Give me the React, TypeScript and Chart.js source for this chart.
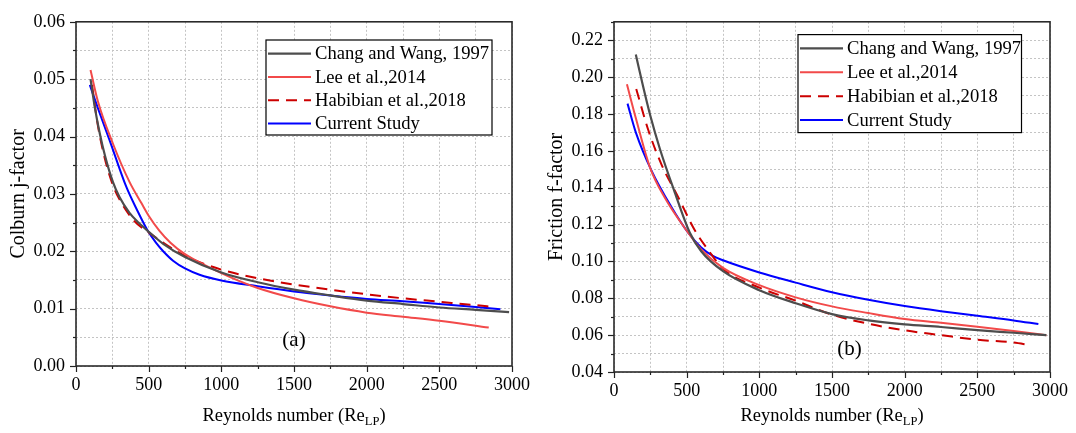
import React, { useEffect, useRef } from 'react';
import { Chart, registerables } from 'chart.js';

Chart.register(...registerables);

const SERIF = '"Liberation Serif", "Times New Roman", Times, serif';

// ---------- Panel (a): Colburn j-factor ----------
const jChangRe = [100, 130, 164, 200, 255, 300, 368, 430, 505, 600, 750, 1000, 1250, 1500, 1750, 2000, 2250, 2500, 2750, 2980];
const jChangVal = [0.05, 0.045, 0.0405, 0.0366, 0.032, 0.0294, 0.0267, 0.025, 0.0233, 0.0213, 0.019, 0.0163, 0.0146, 0.0133, 0.0123, 0.0114, 0.0108, 0.0102, 0.0098, 0.0094];

const jLeeRe = [100, 150, 255, 368, 450, 500, 573, 650, 750, 1000, 1250, 1500, 1750, 2000, 2250, 2500, 2840];
const jLeeVal = [0.0516, 0.0462, 0.0387, 0.0321, 0.0284, 0.0262, 0.0236, 0.0215, 0.0195, 0.0162, 0.0136, 0.0118, 0.0104, 0.0093, 0.0086, 0.0079, 0.0067];

const jHabRe = [110, 150, 200, 250, 300, 400, 500, 600, 750, 1000, 1250, 1500, 1750, 2000, 2250, 2500, 2750, 2870];
const jHabVal = [0.049, 0.042, 0.036, 0.0318, 0.029, 0.0253, 0.0233, 0.0215, 0.0192, 0.0168, 0.0153, 0.0142, 0.0133, 0.0125, 0.0118, 0.0112, 0.0106, 0.0103];

const jCurRe = [95, 150, 232, 345, 420, 493, 550, 600, 670, 750, 850, 1000, 1250, 1500, 1750, 2000, 2250, 2500, 2750, 2920];
const jCurVal = [0.049, 0.045, 0.0393, 0.0313, 0.0272, 0.0236, 0.0215, 0.02, 0.0183, 0.017, 0.0159, 0.0149, 0.0139, 0.013, 0.0123, 0.0117, 0.0113, 0.0108, 0.0103, 0.0099];

// ---------- Panel (b): Friction f-factor ----------
const fChangRe = [150, 200, 250, 316, 418, 521, 600, 750, 1000, 1250, 1500, 1750, 2000, 2250, 2500, 2750, 2975];
const fChangVal = [0.2122, 0.195, 0.179, 0.161, 0.1375, 0.1157, 0.1055, 0.0947, 0.0844, 0.0773, 0.0714, 0.068, 0.0658, 0.0644, 0.0627, 0.0613, 0.06];

const fLeeRe = [89, 150, 248, 350, 509, 600, 750, 1000, 1250, 1500, 1750, 2000, 2250, 2500, 2750, 2975];
const fLeeVal = [0.1961, 0.1778, 0.1509, 0.1345, 0.1157, 0.1065, 0.0965, 0.0871, 0.0805, 0.0756, 0.072, 0.0688, 0.0667, 0.0645, 0.0622, 0.06];

const fHabRe = [153, 237, 330, 441, 555, 650, 750, 1000, 1250, 1500, 1750, 2000, 2250, 2500, 2750, 2860];
const fHabVal = [0.1935, 0.171, 0.152, 0.135, 0.117, 0.106, 0.096, 0.0858, 0.0787, 0.0711, 0.0662, 0.0626, 0.06, 0.0575, 0.056, 0.0546];

const fCurRe = [93, 150, 259, 395, 509, 600, 680, 750, 1000, 1250, 1500, 1750, 2000, 2250, 2500, 2750, 2920];
const fCurVal = [0.1856, 0.17, 0.1491, 0.1295, 0.1157, 0.1075, 0.103, 0.1006, 0.094, 0.0885, 0.0833, 0.0792, 0.0758, 0.073, 0.0705, 0.068, 0.066];

const seriesLabels = ['Chang and Wang, 1997', 'Lee et al.,2014', 'Habibian et al.,2018', 'Current Study'];
const seriesColors = ['#4d4d4d', '#f24a4a', '#cc0000', '#0000ff'];

const xTitleMain = 'Reynolds number (Re';
const xTitleSub = 'LP';

type Series = { label: string; re: number[]; val: number[]; color: string; width: number; dash?: number[] };

type Panel = {
  series: Series[];
  yMin: number; yMax: number; yMinor: number; yMajor: number; yDecimals: number;
  yTitle: string; tag: string; tagRe: number; tagVal: number;
  padTop: number; padRight: number; xAxisH: number; yAxisW: number;
  legend: { x: number; y: number; w: number; h: number; first: number; gap: number };
};

function mkSeries(res: number[][], vals: number[][]): Series[] {
  return res.map((re, i) => ({
    label: seriesLabels[i],
    re,
    val: vals[i],
    color: seriesColors[i],
    width: i === 0 ? 2.2 : 2,
    dash: i === 2 ? [11, 7] : undefined,
  }));
}

const panelA: Panel = {
  series: mkSeries([jChangRe, jLeeRe, jHabRe, jCurRe], [jChangVal, jLeeVal, jHabVal, jCurVal]),
  yMin: 0, yMax: 0.06, yMinor: 0.005, yMajor: 0.01, yDecimals: 2,
  yTitle: 'Colburn j-factor', tag: '(a)', tagRe: 1500, tagVal: 0.0045,
  padTop: 16, padRight: 22, xAxisH: 67, yAxisW: 76,
  legend: { x: 266, y: 40, w: 226, h: 95, first: 13.6, gap: 23.3 },
};

const panelB: Panel = {
  series: mkSeries([fChangRe, fLeeRe, fHabRe, fCurRe], [fChangVal, fLeeVal, fHabVal, fCurVal]),
  yMin: 0.04, yMax: 0.23, yMinor: 0.01, yMajor: 0.02, yDecimals: 2,
  yTitle: 'Friction f-factor', tag: '(b)', tagRe: 1620, tagVal: 0.052,
  padTop: 15, padRight: 25, xAxisH: 61, yAxisW: 76,
  legend: { x: 260, y: 34.6, w: 223.5, h: 98, first: 13.8, gap: 23.9 },
};

const isMult = (v: number, m: number) => Math.abs(v / m - Math.round(v / m)) < 1e-6;

function makeDecor(p: Panel) {
  return {
    id: 'decor',
    afterDraw(chart: any) {
      const { ctx, chartArea: ca, scales } = chart;
      const xs = scales.x;
      const ys = scales.y;
      ctx.save();
      // tick marks
      ctx.strokeStyle = '#222';
      ctx.lineWidth = 1.2;
      for (let i = 0; i <= 12; i++) {
        const v = i * 250;
        const px = Math.round(xs.getPixelForValue(v)) + 0.5;
        const len = v % 500 === 0 ? 6 : 3;
        ctx.beginPath();
        ctx.moveTo(px, ca.bottom);
        ctx.lineTo(px, ca.bottom + len);
        ctx.stroke();
      }
      const n = Math.round((p.yMax - p.yMin) / p.yMinor);
      for (let i = 0; i <= n; i++) {
        const v = p.yMin + i * p.yMinor;
        const py = Math.round(ys.getPixelForValue(v)) + 0.5;
        const len = isMult(v, p.yMajor) ? 6 : 3;
        ctx.beginPath();
        ctx.moveTo(ca.left, py);
        ctx.lineTo(ca.left - len, py);
        ctx.stroke();
      }
      // frame
      ctx.strokeStyle = '#2a2a2a';
      ctx.lineWidth = 1.6;
      ctx.strokeRect(ca.left, ca.top, ca.right - ca.left, ca.bottom - ca.top);

      // legend
      const L = p.legend;
      ctx.fillStyle = '#fff';
      ctx.fillRect(L.x, L.y, L.w, L.h);
      ctx.strokeStyle = '#000';
      ctx.lineWidth = 1.2;
      ctx.strokeRect(L.x, L.y, L.w, L.h);
      ctx.font = `18.6px ${SERIF}`;
      ctx.textBaseline = 'middle';
      ctx.textAlign = 'left';
      p.series.forEach((s, i) => {
        const y = L.y + L.first + i * L.gap;
        ctx.strokeStyle = s.color;
        ctx.lineWidth = s.width;
        ctx.setLineDash(s.dash || []);
        ctx.beginPath();
        ctx.moveTo(L.x + 2, y);
        ctx.lineTo(L.x + 45, y);
        ctx.stroke();
        ctx.setLineDash([]);
        ctx.fillStyle = '#000';
        ctx.fillText(s.label, L.x + 49, y + 1);
      });

      // panel tag
      ctx.font = `21px ${SERIF}`;
      ctx.textAlign = 'center';
      ctx.fillStyle = '#000';
      ctx.fillText(p.tag, xs.getPixelForValue(p.tagRe), ys.getPixelForValue(p.tagVal));

      // x title with subscript
      const mainFont = `18.5px ${SERIF}`;
      const subFont = `12.5px ${SERIF}`;
      ctx.font = mainFont;
      const w1 = ctx.measureText(xTitleMain).width;
      const w3 = ctx.measureText(')').width;
      ctx.font = subFont;
      const w2 = ctx.measureText(xTitleSub).width;
      const total = w1 + w2 + w3;
      const cx = (ca.left + ca.right) / 2;
      let x0 = cx - total / 2;
      const yb = 421;
      ctx.textAlign = 'left';
      ctx.textBaseline = 'alphabetic';
      ctx.font = mainFont;
      ctx.fillText(xTitleMain, x0, yb);
      x0 += w1;
      ctx.font = subFont;
      ctx.fillText(xTitleSub, x0, yb + 4);
      x0 += w2;
      ctx.font = mainFont;
      ctx.fillText(')', x0, yb);

      // y title
      ctx.save();
      ctx.translate(19, (ca.top + ca.bottom) / 2);
      ctx.rotate(-Math.PI / 2);
      ctx.font = `20px ${SERIF}`;
      ctx.textAlign = 'center';
      ctx.textBaseline = 'middle';
      ctx.fillText(p.yTitle, 0, 0);
      ctx.restore();

      ctx.restore();
    },
  };
}

function PanelChart({ p }: { p: Panel }) {
  const ref = useRef<HTMLCanvasElement>(null);
  useEffect(() => {
    const canvas = ref.current;
    if (!canvas) return;
    const chart = new Chart(canvas, {
      type: 'line',
      data: {
        datasets: p.series.map((s) => ({
          label: s.label,
          data: s.re.map((x, i) => ({ x, y: s.val[i] })),
          borderColor: s.color,
          backgroundColor: s.color,
          borderWidth: s.width,
          borderDash: s.dash || [],
          pointRadius: 0,
          fill: false,
          cubicInterpolationMode: 'monotone' as const,
        })),
      },
      options: {
        responsive: false,
        animation: false,
        devicePixelRatio: 1,
        layout: { padding: { left: 0, top: p.padTop, right: p.padRight, bottom: 0 } },
        plugins: { legend: { display: false }, tooltip: { enabled: false } },
        scales: {
          x: {
            type: 'linear',
            min: 0,
            max: 3000,
            afterFit: (s: any) => { s.height = p.xAxisH; },
            ticks: {
              stepSize: 250,
              autoSkip: false,
              maxRotation: 0,
              minRotation: 0,
              padding: 8,
              color: '#000',
              font: { family: SERIF, size: 18 },
              callback: (v: any) => (Number(v) % 500 === 0 ? String(v) : ''),
            },
            grid: { drawTicks: false, color: '#c4c4c4', lineWidth: 1 },
            border: { display: false, dash: [2, 2] },
          },
          y: {
            type: 'linear',
            min: p.yMin,
            max: p.yMax,
            afterFit: (s: any) => { s.width = p.yAxisW; },
            ticks: {
              stepSize: p.yMinor,
              autoSkip: false,
              padding: 11,
              color: '#000',
              font: { family: SERIF, size: 18 },
              callback: (v: any) => (isMult(Number(v), p.yMajor) ? Number(v).toFixed(p.yDecimals) : ''),
            },
            grid: { drawTicks: false, color: '#c4c4c4', lineWidth: 1 },
            border: { display: false, dash: [2, 2] },
          },
        },
      },
      plugins: [makeDecor(p)],
    } as any);
    return () => chart.destroy();
  }, [p]);
  return <canvas ref={ref} width={538} height={433} style={{ display: 'block', width: 538, height: 433 }} />;
}

export default function App() {
  return (
    <div style={{ position: 'absolute', left: 0, top: 0, width: 1076, height: 433, display: 'flex', background: '#fff' }}>
      <PanelChart p={panelA} />
      <PanelChart p={panelB} />
    </div>
  );
}
